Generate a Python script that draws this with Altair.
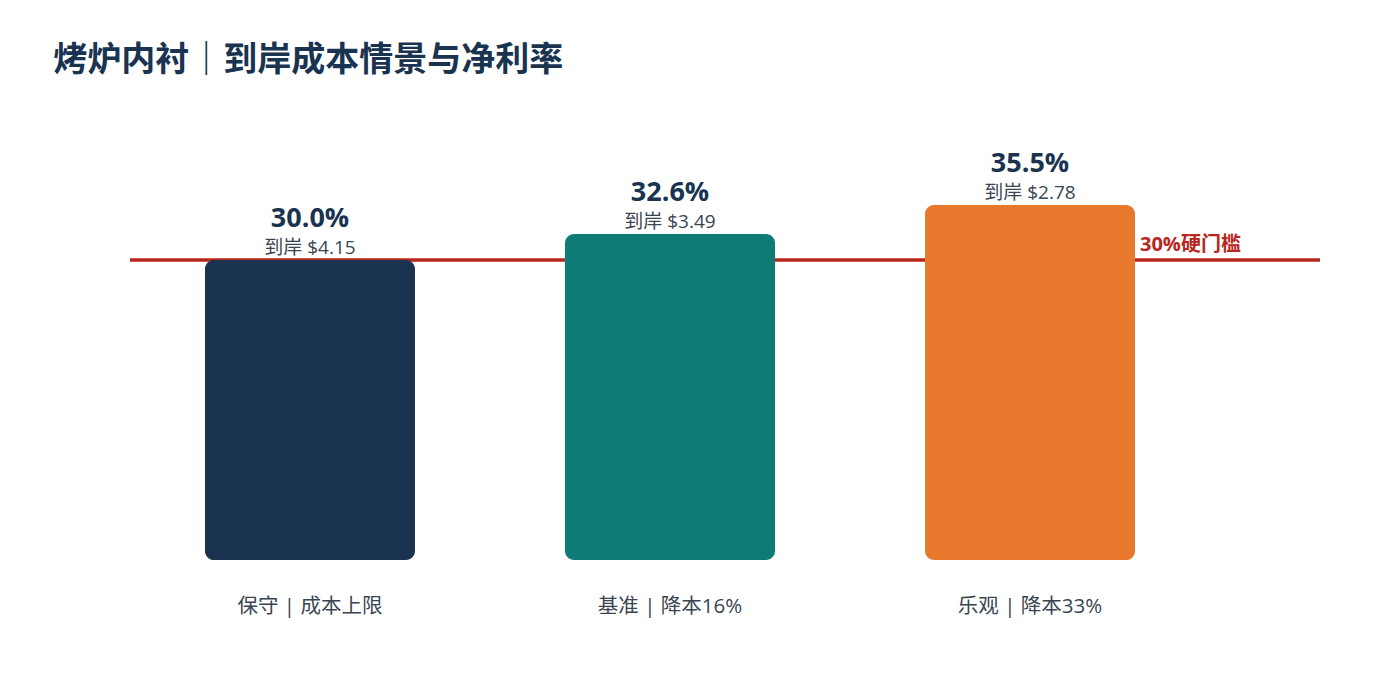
import altair as alt
import pandas as pd

FONT_CJK = "Noto Sans CJK SC"
FONT = "'Open Sans', 'Noto Sans CJK SC', sans-serif"

escenarios = ["保守 | 成本上限", "基准 | 降本16%", "乐观 | 降本33%"]
margenes = [30.0, 32.6, 35.5]
costos = [4.15, 3.49, 2.78]
colores = ["#193350", "#0e7b76", "#e8792c"]
umbral = 30.0
umbral_label = "30%硬门槛"

df = pd.DataFrame({
    "escenario": escenarios,
    "margen": margenes,
    "costo": costos,
    "color": colores,
})
df["margen_txt"] = [f"{m:.1f}%" for m in margenes]
df["costo_txt"] = [f"到岸 ${c:.2f}" for c in costos]

x_enc = alt.X(
    "escenario:N",
    sort=None,
    title=None,
    scale=alt.Scale(paddingInner=0.4167, paddingOuter=0.2083),
    axis=alt.Axis(
        domain=False, ticks=False, labelAngle=0, labelPadding=36,
        labelFontSize=20.5, labelColor="#3a4552", labelFont=FONT,
    ),
)
y_enc = alt.Y(
    "margen:Q",
    title=None,
    scale=alt.Scale(domain=[0, 40], nice=False),
    axis=None,
)

base = alt.Chart(df).encode(x=x_enc, y=y_enc)

barras = base.mark_bar(cornerRadius=9).encode(
    color=alt.Color("color:N", scale=None)
)

pct = base.mark_text(
    dy=-33, baseline="alphabetic", fontSize=27, fontWeight="bold",
    color="#193350", font=FONT,
).encode(text="margen_txt:N")

costo = base.mark_text(
    dy=-6, baseline="alphabetic", fontSize=19, color="#3a4552", font=FONT,
).encode(text="costo_txt:N")

umbral_df = pd.DataFrame({"margen": [umbral], "t": [umbral_label]})

regla = (
    alt.Chart(umbral_df)
    .mark_rule(color="#b8261c", strokeWidth=3.5)
    .encode(y=y_enc, x=alt.value(0), x2=alt.value(1190))
)

regla_txt = (
    alt.Chart(umbral_df)
    .mark_text(align="left", baseline="alphabetic", dy=-9, fontSize=20,
               fontWeight="bold", color="#b8261c", font=FONT)
    .encode(y=y_enc, x=alt.value(1010), text="t:N")
)

chart = (
    alt.layer(regla, barras, pct, costo, regla_txt)
    .properties(
        width=1080,
        height=400,
        autosize=alt.AutoSizeParams(type="none"),
        padding={"left": 122, "top": 152, "right": 182, "bottom": 112},
        title=alt.Title(
            "烤炉内衬｜到岸成本情景与净利率",
            anchor="start", dx=-75, fontSize=34, fontWeight="bold",
            color="#193350", font=FONT_CJK, offset=72,
        ),
    )
    .configure_view(stroke=None)
)

chart.save("out.html", embed_options={"renderer": "svg", "actions": False})
